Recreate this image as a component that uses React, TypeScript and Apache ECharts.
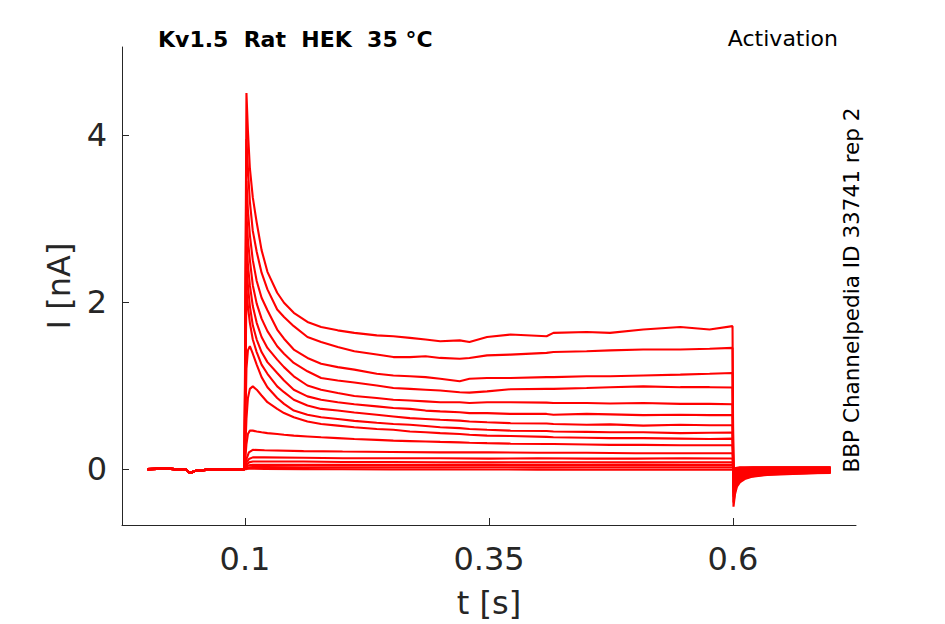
import React, { useEffect, useRef } from "react";
import * as echarts from "echarts";

// ---- time grids (s) ----
const tBase = [0, 0.02, 0.04, 0.043, 0.045, 0.047, 0.05, 0.06, 0.08, 0.0995, 0.1];
const iBase = [0, 0.005, -0.01, -0.04, -0.045, -0.03, -0.02, -0.01, -0.005, 0, 0];

const tPulse = [0.1015, 0.103, 0.105, 0.108, 0.112, 0.117, 0.123, 0.133, 0.14, 0.15, 0.164, 0.178, 0.195, 0.212, 0.235, 0.252, 0.269, 0.285, 0.3, 0.32, 0.33, 0.348, 0.372, 0.409, 0.416, 0.45, 0.474, 0.508, 0.546, 0.576, 0.5995];
const tFlat = [0.1015, 0.104, 0.108, 0.12, 0.16, 0.2, 0.25, 0.3, 0.35, 0.4, 0.45, 0.5, 0.55, 0.5995];
const tTail = [0.6005, 0.602, 0.604, 0.607, 0.612, 0.62, 0.635, 0.655, 0.68, 0.7];

// ---- current sweeps during the step (nA) ----
const pulse01 = [4.5, 4.05, 3.6, 3.25, 2.95, 2.62, 2.36, 2.11, 1.99, 1.87, 1.76, 1.7, 1.66, 1.63, 1.6, 1.59, 1.57, 1.55, 1.53, 1.54, 1.52, 1.58, 1.61, 1.59, 1.63, 1.64, 1.63, 1.67, 1.7, 1.67, 1.71];
const pulse02 = [3.95, 3.6, 3.2, 2.85, 2.6, 2.35, 2.15, 1.91, 1.82, 1.71, 1.58, 1.52, 1.46, 1.41, 1.37, 1.34, 1.34, 1.35, 1.33, 1.32, 1.33, 1.36, 1.37, 1.39, 1.4, 1.41, 1.42, 1.43, 1.43, 1.44, 1.45];
const pulse03 = [3.45, 3.1, 2.8, 2.5, 2.25, 2.05, 1.9, 1.67, 1.56, 1.43, 1.33, 1.26, 1.22, 1.19, 1.14, 1.12, 1.11, 1.1, 1.08, 1.05, 1.08, 1.09, 1.09, 1.1, 1.1, 1.11, 1.11, 1.12, 1.13, 1.14, 1.15];
const pulse04 = [3.05, 2.75, 2.5, 2.2, 1.98, 1.8, 1.65, 1.47, 1.38, 1.27, 1.17, 1.09, 1.06, 1.035, 1.0, 0.97, 0.96, 0.95, 0.94, 0.92, 0.915, 0.93, 0.955, 0.96, 0.96, 0.97, 0.98, 0.99, 0.98, 0.98, 0.976];
const pulse05 = [2.75, 2.45, 2.2, 1.95, 1.75, 1.58, 1.45, 1.31, 1.22, 1.11, 1.0, 0.95, 0.91, 0.875, 0.85, 0.83, 0.82, 0.81, 0.8, 0.8, 0.79, 0.8, 0.8, 0.795, 0.79, 0.79, 0.785, 0.79, 0.78, 0.78, 0.776];
const pulse06 = [2.45, 2.2, 1.95, 1.72, 1.55, 1.4, 1.28, 1.15, 1.06, 0.95, 0.87, 0.83, 0.8, 0.776, 0.75, 0.73, 0.72, 0.7, 0.69, 0.68, 0.67, 0.67, 0.66, 0.66, 0.65, 0.66, 0.655, 0.645, 0.65, 0.645, 0.646];
const pulse07 = [2.15, 1.95, 1.75, 1.55, 1.4, 1.25, 1.14, 0.99, 0.92, 0.83, 0.76, 0.72, 0.7, 0.677, 0.65, 0.63, 0.61, 0.6, 0.59, 0.58, 0.57, 0.56, 0.55, 0.545, 0.54, 0.53, 0.535, 0.52, 0.53, 0.525, 0.524];
const pulse08 = [1.2, 1.42, 1.47, 1.38, 1.25, 1.1, 0.98, 0.85, 0.78, 0.7, 0.65, 0.62, 0.6, 0.577, 0.555, 0.54, 0.53, 0.515, 0.5, 0.49, 0.48, 0.47, 0.46, 0.455, 0.45, 0.445, 0.44, 0.44, 0.43, 0.435, 0.437];
const pulse09 = [0.6, 0.85, 0.96, 0.99, 0.95, 0.88, 0.8, 0.72, 0.67, 0.62, 0.57, 0.54, 0.52, 0.5, 0.48, 0.47, 0.45, 0.44, 0.43, 0.42, 0.41, 0.4, 0.395, 0.385, 0.38, 0.375, 0.37, 0.37, 0.365, 0.36, 0.365];
const pulse10 = [0.3, 0.42, 0.46, 0.46, 0.45, 0.44, 0.43, 0.42, 0.41, 0.4, 0.39, 0.38, 0.37, 0.36, 0.35, 0.34, 0.335, 0.33, 0.325, 0.32, 0.315, 0.31, 0.305, 0.3, 0.3, 0.295, 0.29, 0.29, 0.285, 0.285, 0.286];

// ---- small sweeps (nA) on the coarse grid ----
const flat11 = [0.12, 0.2, 0.23, 0.225, 0.215, 0.21, 0.205, 0.2, 0.2, 0.195, 0.195, 0.19, 0.19, 0.19];
const flat12 = [0.08, 0.12, 0.14, 0.14, 0.135, 0.13, 0.13, 0.13, 0.125, 0.13, 0.125, 0.125, 0.13, 0.127];
const flat13 = [0.05, 0.08, 0.09, 0.09, 0.09, 0.085, 0.085, 0.08, 0.08, 0.08, 0.08, 0.08, 0.08, 0.08];
const flat14 = [0.03, 0.045, 0.05, 0.05, 0.05, 0.05, 0.05, 0.048, 0.05, 0.048, 0.048, 0.05, 0.048, 0.048];
const flat15 = [0.015, 0.02, 0.025, 0.025, 0.022, 0.02, 0.02, 0.02, 0.022, 0.02, 0.02, 0.02, 0.02, 0.02];
const flat16 = [0.0, 0.005, 0.005, 0.002, 0.0, -0.002, -0.005, -0.005, -0.005, -0.006, -0.008, -0.008, -0.008, -0.008];

// ---- tail currents after the step (nA), one list per sweep ----
const tails = [
  [-0.45, -0.3, -0.21, -0.16, -0.12, -0.09, -0.07, -0.06, -0.05, -0.045],
  [-0.4, -0.27, -0.19, -0.14, -0.11, -0.085, -0.065, -0.055, -0.05, -0.04],
  [-0.33, -0.22, -0.16, -0.12, -0.095, -0.075, -0.06, -0.05, -0.045, -0.04],
  [-0.28, -0.19, -0.14, -0.1, -0.08, -0.065, -0.055, -0.045, -0.04, -0.035],
  [-0.22, -0.15, -0.11, -0.085, -0.07, -0.055, -0.045, -0.04, -0.035, -0.03],
  [-0.18, -0.12, -0.09, -0.07, -0.055, -0.045, -0.04, -0.035, -0.03, -0.03],
  [-0.14, -0.1, -0.07, -0.055, -0.045, -0.04, -0.035, -0.03, -0.03, -0.025],
  [-0.11, -0.08, -0.06, -0.045, -0.04, -0.035, -0.03, -0.025, -0.025, -0.02],
  [-0.08, -0.06, -0.045, -0.035, -0.03, -0.025, -0.02, -0.02, -0.02, -0.015],
  [-0.06, -0.045, -0.035, -0.03, -0.025, -0.02, -0.015, -0.015, -0.01, -0.01],
  [-0.04, -0.03, -0.02, -0.015, -0.01, -0.01, -0.005, -0.005, 0, 0],
  [-0.02, -0.01, -0.005, 0, 0, 0.005, 0.005, 0.01, 0.01, 0.01],
  [-0.01, 0, 0.005, 0.01, 0.01, 0.01, 0.015, 0.015, 0.015, 0.015],
  [0, 0.005, 0.01, 0.015, 0.015, 0.02, 0.02, 0.02, 0.02, 0.02],
  [0.005, 0.01, 0.015, 0.02, 0.02, 0.02, 0.02, 0.02, 0.02, 0.02],
  [0, 0, 0, -0.005, -0.01, -0.01, -0.01, -0.01, -0.01, -0.01],
];

const pulseSweeps = [pulse01, pulse02, pulse03, pulse04, pulse05, pulse06, pulse07, pulse08, pulse09, pulse10];
const flatSweeps = [flat11, flat12, flat13, flat14, flat15, flat16];

const xTicks = [0.1, 0.35, 0.6];
const yTicks = [0, 2, 4];

const TITLE = "Kv1.5  Rat  HEK  35 °C";
const PROTOCOL = "Activation";
const SIDE = "BBP Channelpedia ID 33741 rep 2";

const AXIS_COLOR = "#262626";
const FONT = "DejaVu Sans";

function zip(ts: number[], vs: number[]): number[][] {
  return ts.map((t, i) => [t, vs[i]]);
}

export default function App() {
  const ref = useRef<HTMLDivElement>(null);
  useEffect(() => {
    if (!ref.current) return;
    const chart = echarts.init(ref.current, null, { renderer: "svg" });
    const sweeps: number[][][] = [];
    pulseSweeps.forEach((p, k) => {
      sweeps.push([...zip(tBase, iBase), ...zip(tPulse, p), ...zip(tTail, tails[k])]);
    });
    flatSweeps.forEach((p, k) => {
      sweeps.push([...zip(tBase, iBase), ...zip(tFlat, p), ...zip(tTail, tails[pulseSweeps.length + k])]);
    });
    const series = sweeps.map((d) => ({
      type: "line",
      data: d,
      showSymbol: false,
      symbol: "none",
      silent: true,
      lineStyle: { color: "#ff0000", width: 2.1 },
      z: 2,
    }));
    chart.setOption({
      animation: false,
      backgroundColor: "#ffffff",
      grid: { left: 122, right: 89, top: 47, bottom: 98 },
      xAxis: {
        type: "value",
        min: -0.026,
        max: 0.726,
        axisLine: { show: true, onZero: false, lineStyle: { color: AXIS_COLOR, width: 1 } },
        axisTick: { show: true, inside: true, length: 7, customValues: xTicks, lineStyle: { color: AXIS_COLOR } },
        axisLabel: { customValues: xTicks, fontSize: 32, color: AXIS_COLOR, margin: 18, fontFamily: FONT, formatter: (v: number) => String(v) },
        splitLine: { show: false },
        name: "t [s]",
        nameLocation: "middle",
        nameGap: 62,
        nameTextStyle: { fontSize: 32, color: AXIS_COLOR, fontFamily: FONT },
      },
      yAxis: {
        type: "value",
        min: -0.669,
        max: 5.05,
        axisLine: { show: true, onZero: false, lineStyle: { color: AXIS_COLOR, width: 1 } },
        axisTick: { show: true, inside: true, length: 7, customValues: yTicks, lineStyle: { color: AXIS_COLOR } },
        axisLabel: { customValues: yTicks, fontSize: 32, color: AXIS_COLOR, margin: 15, fontFamily: FONT, formatter: (v: number) => String(v) },
        splitLine: { show: false },
        name: "I [nA]",
        nameLocation: "middle",
        nameGap: 47,
        nameTextStyle: { fontSize: 32, color: AXIS_COLOR, fontFamily: FONT },
      },
      graphic: [
        { type: "text", x: 158, y: 39, style: { text: TITLE, fontSize: 22, fontWeight: "bold", fontFamily: FONT, fill: "#000000", align: "left", verticalAlign: "middle" } },
        { type: "text", x: 838, y: 38.5, style: { text: PROTOCOL, fontSize: 22, fontFamily: FONT, fill: "#000000", align: "right", verticalAlign: "middle" } },
        { type: "text", x: 851, y: 290, rotation: Math.PI / 2, style: { text: SIDE, fontSize: 21.5, fontFamily: FONT, fill: "#000000", align: "center", verticalAlign: "middle" } },
      ],
      series,
    });
    return () => chart.dispose();
  }, []);
  return <div ref={ref} style={{ position: "absolute", left: 0, top: 0, width: 945, height: 624, background: "#ffffff" }} />;
}
